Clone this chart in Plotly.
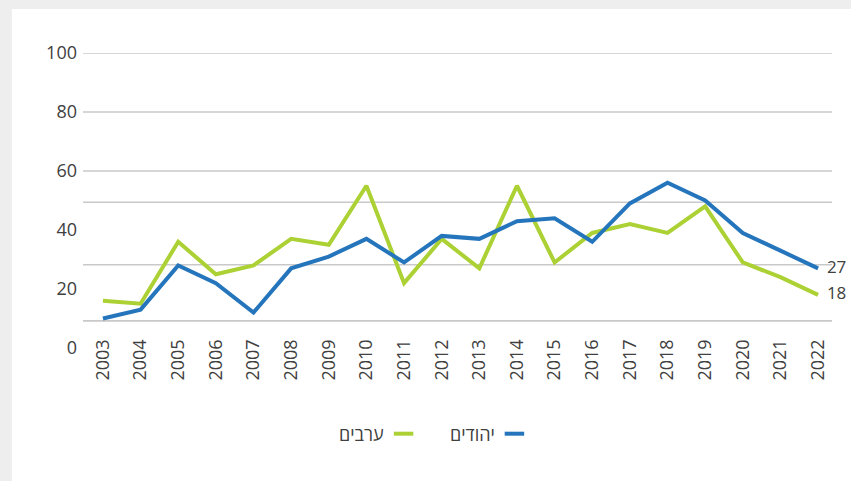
import plotly.graph_objects as go

years = [str(y) for y in range(2003, 2023)]
jews = [10, 13, 28, 22, 12, 27, 31, 37, 29, 38, 37, 43, 44, 36, 49, 56, 50, 39, 33, 27]
arabs = [16, 15, 36, 25, 28, 37, 35, 55, 22, 37, 27, 55, 29, 39, 42, 39, 48, 29, 24, 18]
name_jews = "יהודים"
name_arabs = "ערבים"
y_ticks = [0, 20, 40, 60, 80, 100]
# gridlines in the original do not sit on the labelled ticks
grid_vals = [9.2, 28.2, 49.4, 60, 80, 100]

blue = "#2575bc"
green = "#acd134"
txt = "#404040"

fig = go.Figure()
for vals, col, name in [(arabs, green, name_arabs), (jews, blue, name_jews)]:
    # only the last point carries its value as a label
    labels = [""] * (len(vals) - 1) + ["\u00a0\u00a0" + str(vals[-1])]
    fig.add_trace(go.Scatter(x=years, y=vals, mode="lines+text", name=name,
                             text=labels, textposition="middle right",
                             textfont=dict(size=17, color=txt), cliponaxis=False,
                             line=dict(color=col, width=4)))

# white panel over the grey page
fig.add_shape(type="rect", xref="paper", yref="paper", x0=-0.095, x1=1.05, y0=-0.6, y1=1.149,
              fillcolor="white", line_width=0, layer="below")

for g in grid_vals:
    fig.add_shape(type="line", xref="paper", yref="y", x0=0, x1=1, y0=g, y1=g,
                  line=dict(color="#c9c9c9", width=1.6), layer="below")

# legend drawn by hand so the symbol sits right of the Hebrew text
leg_y = -0.2905
for x0, x1, tx, col, name in [(0.415, 0.441, 0.4045, green, name_arabs),
                               (0.563, 0.589, 0.553, blue, name_jews)]:
    fig.add_shape(type="line", xref="paper", yref="paper", x0=x0, x1=x1, y0=leg_y, y1=leg_y,
                  line=dict(color=col, width=4))
    fig.add_annotation(xref="paper", yref="paper", x=tx, y=leg_y, text=name, showarrow=False,
                       xanchor="right", yanchor="middle", font=dict(size=18, color=txt))

fig.update_layout(
    width=851, height=481,
    margin=dict(l=83, r=19, t=53, b=133),
    paper_bgcolor="#eeeeee",
    plot_bgcolor="rgba(0,0,0,0)",
    font=dict(family="Open Sans", size=18, color=txt),
    showlegend=False,
    xaxis=dict(type="category", range=[-0.53, 19.37], showgrid=False, showline=False,
               zeroline=False, tickangle=-90, anchor="free", position=0.092,
               ticks="", ticklabelstandoff=14),
    yaxis=dict(range=[0, 100], tickvals=y_ticks, showgrid=False, zeroline=False,
               showline=False, ticks="", ticklabelstandoff=5),
)

fig.write_html("out.html", config={"displayModeBar": False},
               post_script="document.body.style.margin='0';")
